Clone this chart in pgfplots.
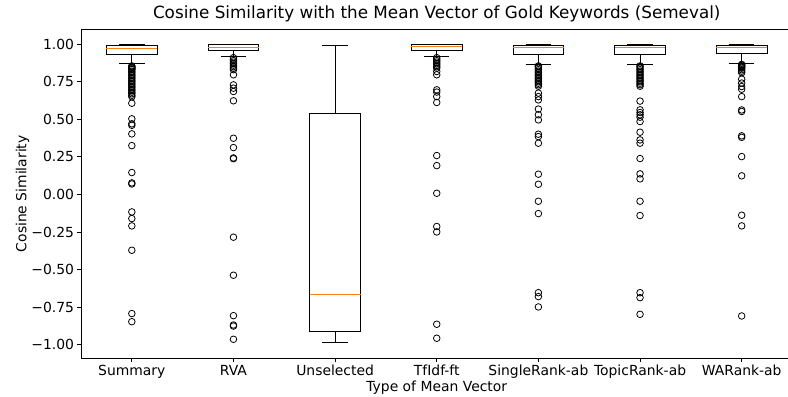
\documentclass[border=0pt]{standalone}
\usepackage{fontspec}
\setmainfont{DejaVu Sans}
\usepackage{pgfplots}
\pgfplotsset{compat=1.18}
\usepgfplotslibrary{statistics}
\definecolor{mplorange}{HTML}{FF7F0E}
\begin{document}
\begin{tikzpicture}
\begin{axis}[name=ax, scale only axis, width=711.5pt, height=329pt,
  xmin=0.5, xmax=7.5, ymin=-1.0895, ymax=1.0985,
  xtick={1,2,3,4,5,6,7},
  xticklabels={Summary,RVA,Unselected,TfIdf-ft,SingleRank-ab,TopicRank-ab,WARank-ab},
  ytick={-1,-0.75,-0.5,-0.25,0,0.25,0.5,0.75,1},
  yticklabels={−1.00,−0.75,−0.50,−0.25,0.00,0.25,0.50,0.75,1.00},
  tick align=outside, tick pos=left, major tick length=3.5pt,
  tick style={black, line width=0.8pt},
  axis line style={black, line width=0.8pt},
  ticklabel style={font=\fontsize{13.9}{16}\selectfont},
  label style={font=\fontsize{13.9}{16}\selectfont},
  title={Cosine Similarity with the Mean Vector of Gold Keywords (Semeval)},
  title style={font=\fontsize{16.8}{19}\selectfont, at={(axis description cs:0.5,1)}, anchor=base, yshift=4.5pt},
  xlabel={Type of Mean Vector},
  ylabel={Cosine Similarity},
  xlabel style={at={(axis description cs:0.5,0)}, anchor=base, yshift=-32.7pt},
  ylabel style={at={(axis description cs:0,0.5)}, anchor=base, yshift=54.5pt},
  boxplot/draw direction=y,
  boxplot/box extend=0.5, boxplot/whisker extend=0.25,
  boxplot/every median/.style={draw=mplorange, line width=0.9pt},
  every axis plot/.append style={black, line width=0.8pt, mark=o, mark size=3.3pt, mark options={line width=0.8pt, black, fill=none}},
]
% Summary
\addplot[boxplot prepared={draw position=1, median=0.973, upper quartile=0.991, lower quartile=0.933, upper whisker=0.997, lower whisker=0.869}]
 table[row sep=\\, y index=0] {v\\ 0.855\\ 0.85\\ 0.845\\ 0.84\\ 0.835\\ 0.83\\ 0.82\\ 0.81\\ 0.80\\ 0.79\\ 0.78\\ 0.77\\ 0.76\\ 0.75\\ 0.74\\ 0.73\\ 0.72\\ 0.71\\ 0.70\\ 0.69\\ 0.68\\ 0.67\\ 0.66\\ 0.65\\ 0.607\\ 0.503\\ 0.47\\ 0.46\\ 0.403\\ 0.325\\ 0.146\\ 0.077\\ 0.07\\ -0.116\\ -0.16\\ -0.209\\ -0.371\\ -0.792\\ -0.846\\};
% RVA
\addplot[boxplot prepared={draw position=2, median=0.98, upper quartile=0.995, lower quartile=0.96, upper whisker=0.999, lower whisker=0.918}]
 table[row sep=\\, y index=0] {v\\ 0.91\\ 0.90\\ 0.89\\ 0.88\\ 0.87\\ 0.86\\ 0.85\\ 0.84\\ 0.83\\ 0.796\\ 0.729\\ 0.707\\ 0.685\\ 0.623\\ 0.374\\ 0.312\\ 0.243\\ 0.238\\ -0.284\\ -0.537\\ -0.806\\ -0.868\\ -0.875\\ -0.963\\};
% Unselected
\addplot[boxplot prepared={draw position=3, median=-0.663, upper quartile=0.536, lower quartile=-0.912, upper whisker=0.991, lower whisker=-0.985}]
 coordinates {};
% TfIdf-ft
\addplot[boxplot prepared={draw position=4, median=0.982, upper quartile=0.995, lower quartile=0.96, upper whisker=0.999, lower whisker=0.918}]
 table[row sep=\\, y index=0] {v\\ 0.91\\ 0.90\\ 0.89\\ 0.88\\ 0.87\\ 0.86\\ 0.85\\ 0.84\\ 0.818\\ 0.796\\ 0.696\\ 0.681\\ 0.651\\ 0.612\\ 0.259\\ 0.192\\ 0.008\\ -0.213\\ -0.249\\ -0.863\\ -0.956\\};
% SingleRank-ab
\addplot[boxplot prepared={draw position=5, median=0.975, upper quartile=0.993, lower quartile=0.933, upper whisker=0.997, lower whisker=0.864}]
 table[row sep=\\, y index=0] {v\\ 0.855\\ 0.85\\ 0.84\\ 0.83\\ 0.82\\ 0.81\\ 0.80\\ 0.79\\ 0.78\\ 0.77\\ 0.76\\ 0.75\\ 0.74\\ 0.73\\ 0.72\\ 0.674\\ 0.651\\ 0.629\\ 0.568\\ 0.53\\ 0.496\\ 0.401\\ 0.385\\ 0.341\\ 0.135\\ 0.068\\ -0.045\\ -0.127\\ -0.653\\ -0.679\\ -0.748\\};
% TopicRank-ab
\addplot[boxplot prepared={draw position=6, median=0.975, upper quartile=0.993, lower quartile=0.931, upper whisker=0.997, lower whisker=0.864}]
 table[row sep=\\, y index=0] {v\\ 0.855\\ 0.85\\ 0.84\\ 0.83\\ 0.82\\ 0.81\\ 0.80\\ 0.79\\ 0.78\\ 0.77\\ 0.76\\ 0.75\\ 0.74\\ 0.73\\ 0.72\\ 0.621\\ 0.563\\ 0.545\\ 0.53\\ 0.514\\ 0.485\\ 0.414\\ 0.363\\ 0.341\\ 0.239\\ 0.137\\ 0.104\\ -0.045\\ -0.14\\ -0.653\\ -0.686\\ -0.797\\};
% WARank-ab
\addplot[boxplot prepared={draw position=7, median=0.975, upper quartile=0.993, lower quartile=0.94, upper whisker=0.997, lower whisker=0.874}]
 table[row sep=\\, y index=0] {v\\ 0.865\\ 0.86\\ 0.855\\ 0.85\\ 0.845\\ 0.84\\ 0.83\\ 0.82\\ 0.81\\ 0.767\\ 0.741\\ 0.718\\ 0.70\\ 0.651\\ 0.562\\ 0.552\\ 0.39\\ 0.38\\ 0.252\\ 0.124\\ -0.138\\ -0.209\\ -0.808\\};
\end{axis}
\pgfresetboundingbox
\path[use as bounding box] ([shift={(-81pt,-37.7pt)}]ax.south west) rectangle ([shift={(-4.5pt,29.3pt)}]ax.north east);
\end{tikzpicture}
\end{document}
